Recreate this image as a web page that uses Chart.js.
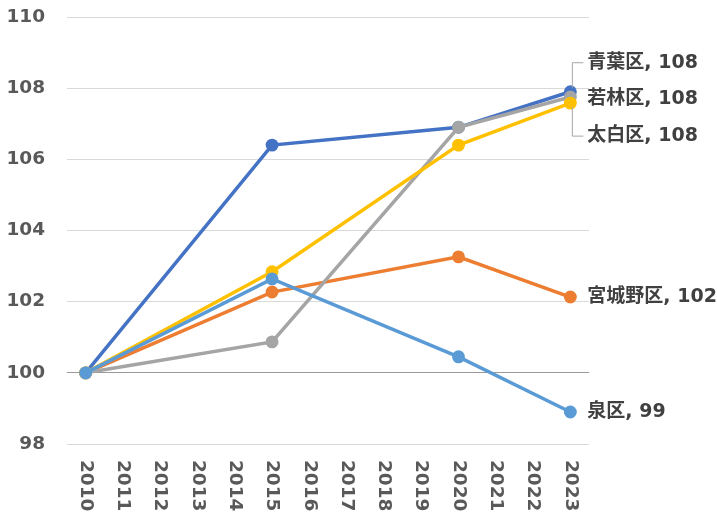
<!DOCTYPE html>
<html>
<head>
<meta charset="utf-8">
<script src="https://cdn.jsdelivr.net/npm/chart.js@4"></script>
<style>
  body { margin: 0; background: #fff; }
  #wrap { width: 717px; height: 516px; position: relative; }
</style>
</head>
<body>
<div id="wrap"><canvas id="chart"></canvas></div>
<script>
const years = ["2010", "2011", "2012", "2013", "2014", "2015", "2016", "2017", "2018", "2019", "2020", "2021", "2022", "2023"];
const wardNames = ["青葉区", "宮城野区", "若林区", "太白区", "泉区"];
// index values (2010 = 100), only census years have data
const aoba        = [100, null, null, null, null, 106.4,  null, null, null, null, 106.9,  null, null, 107.9];
const miyagino    = [100, null, null, null, null, 102.27, null, null, null, null, 103.26, null, null, 102.13];
const wakabayashi = [100, null, null, null, null, 100.87, null, null, null, null, 106.9,  null, null, 107.75];
const taihaku     = [100, null, null, null, null, 102.84, null, null, null, null, 106.4,  null, null, 107.58];
const izumi       = [100, null, null, null, null, 102.64, null, null, null, null, 100.45, null, null, 98.9];
const yTicks = [98, 100, 102, 104, 106, 108, 110];

const colors = ["#4472C4", "#ED7D31", "#A5A5A5", "#FFC000", "#5B9BD5"];
const labelShift = [-29, 0, 2, 33, 0];
const series = [aoba, miyagino, wakabayashi, taihaku, izumi];

const tickFont = { family: "'DejaVu Sans', sans-serif", size: 18.5, weight: "bold" };

const endLabels = {
  id: "endLabels",
  afterDatasetsDraw(chart) {
    const c = chart.ctx;
    c.save();
    // leader lines for the crowded labels
    c.strokeStyle = "#A6A6A6";
    c.lineWidth = 1;
    [0, 3].forEach(i => {
      const meta = chart.getDatasetMeta(i);
      const pt = meta.data[meta.data.length - 1];
      const ly = pt.y + labelShift[i];
      c.beginPath();
      c.moveTo(pt.x + 2, pt.y + (i === 0 ? -4 : 4));
      c.lineTo(pt.x + 2, ly);
      c.lineTo(pt.x + 13, ly);
      c.stroke();
    });
    c.fillStyle = "#404040";
    c.textBaseline = "middle";
    c.textAlign = "left";
    c.font = "bold 19px 'DejaVu Sans', 'Noto Sans CJK JP', sans-serif";
    chart.data.datasets.forEach((ds, i) => {
      const meta = chart.getDatasetMeta(i);
      const pt = meta.data[meta.data.length - 1];
      const v = ds.data[ds.data.length - 1];
      c.fillText(ds.label + ", " + Math.round(v), pt.x + 17, pt.y + labelShift[i]);
    });
    c.restore();
  },
  afterDraw(chart) {
    // x labels read top-to-bottom
    const xs = chart.scales.x;
    const c = chart.ctx;
    c.save();
    c.fillStyle = "#595959";
    c.font = "bold 18.5px 'DejaVu Sans', sans-serif";
    c.textBaseline = "middle";
    c.textAlign = "left";
    years.forEach((y, i) => {
      const x = xs.getPixelForTick(i);
      c.save();
      c.translate(x, chart.chartArea.bottom + 16);
      c.rotate(Math.PI / 2);
      c.fillText(y, 0, 0);
      c.restore();
    });
    c.restore();
  }
};

new Chart(document.getElementById("chart").getContext("2d"), {
  type: "line",
  data: {
    labels: years,
    datasets: series.map((d, i) => ({
      label: wardNames[i],
      data: d,
      borderColor: colors[i],
      backgroundColor: colors[i],
      borderWidth: 3.5,
      pointRadius: 4.7,
      pointHoverRadius: 4.7,
      spanGaps: true,
      order: 5 - i,
    })),
  },
  options: {
    responsive: true,
    maintainAspectRatio: false,
    animation: false,
    layout: { padding: { top: 17, right: 128, left: 0, bottom: 0 } },
    plugins: { legend: { display: false }, tooltip: { enabled: false } },
    scales: {
      x: {
        offset: true,
        grid: { display: false },
        border: { display: false },
        ticks: { display: false },
        afterFit: s => { s.height = 72; s.paddingLeft = 0; s.paddingRight = 0; },
      },
      y: {
        min: 98,
        max: 110,
        afterBuildTicks: s => { s.ticks = yTicks.map(v => ({ value: v })); },
        afterFit: s => { s.width = 67; s.paddingTop = 0; s.paddingBottom = 0; },
        border: { display: false },
        grid: {
          drawTicks: false,
          lineWidth: 1,
          color: ctx => (ctx.tick && ctx.tick.value === 100 ? "#999999" : "#D9D9D9"),
        },
        ticks: { color: "#595959", font: tickFont, padding: 22 },
      },
    },
  },
  plugins: [endLabels],
});
</script>
</body>
</html>
